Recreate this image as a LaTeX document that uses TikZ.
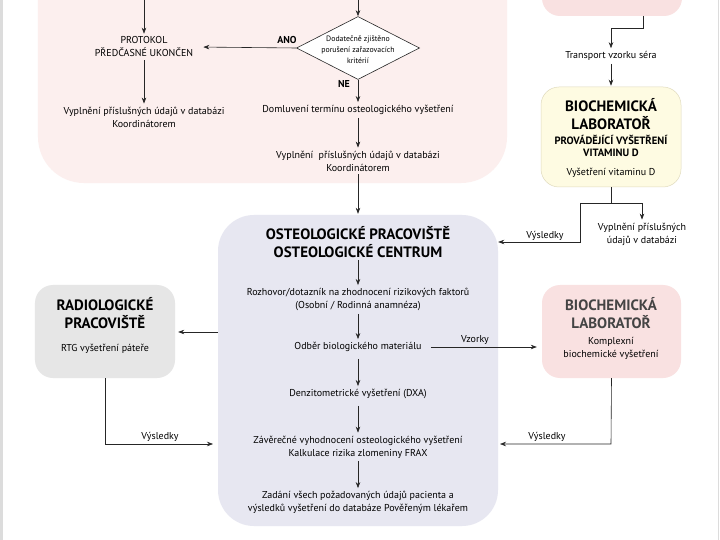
\documentclass[tikz,border=0pt]{standalone}
\usepackage{fontspec}
\setmainfont{PT Sans}
\usetikzlibrary{arrows.meta,shapes.geometric}
\definecolor{pinkbg}{HTML}{FCEFEE}
\definecolor{pinkbox}{HTML}{F9E1E1}
\definecolor{yellowbox}{HTML}{FEFBE2}
\definecolor{yellowline}{HTML}{E0DBBE}
\definecolor{lavbox}{HTML}{E7E7F1}
\definecolor{greybox}{HTML}{E6E6E6}
\definecolor{lineclr}{HTML}{262626}
\definecolor{frameclr}{HTML}{DCDCDC}
\definecolor{titlegrey}{HTML}{444444}
\begin{document}
\begin{tikzpicture}[x=1bp,y=-1bp,
  arr/.style={draw=lineclr, line width=0.6bp, -{Stealth[length=6bp,width=4.5bp]}},
  ln/.style={draw=lineclr, line width=0.6bp},
  txt/.style={align=center, inner sep=3bp, font=\fontsize{10bp}{13bp}\selectfont, text=black},
  ttl/.style={align=center, inner sep=2bp, font=\fontsize{15bp}{18bp}\selectfont\bfseries, text=black},
  lbl/.style={inner sep=1bp, font=\fontsize{10bp}{11bp}\selectfont},
  blbl/.style={inner sep=1bp, font=\fontsize{10bp}{11bp}\selectfont\bfseries},
  box/.style={rounded corners=18bp, inner sep=0pt, draw=none}]
\useasboundingbox (0,0) rectangle (720,540);
\fill[white] (0,0) rectangle (720,540);
\fill[frameclr] (0,0) rectangle (3,540);
\draw[frameclr, line width=1bp] (718,0) -- (718,540);
% boxes
\begin{scope}
\clip (0,0) rectangle (720,540);
\node[box, rounded corners=46bp, fill=pinkbg, minimum width=469bp, minimum height=243bp] (bigpink) at (272.5,61.5) {};
\node[box, fill=pinkbox, minimum width=140bp, minimum height=76bp] (topbox) at (612,-22) {};
\end{scope}
\node[box, fill=yellowbox, draw=yellowline, line width=0.5bp, minimum width=140bp, minimum height=100bp] (yel) at (611,137) {};
\node[box, rounded corners=36bp, fill=lavbox, minimum width=280bp, minimum height=311bp] (osteo) at (358,370.5) {};
\node[box, fill=greybox, minimum width=140bp, minimum height=93bp] (radio) at (105,331.5) {};
\node[box, fill=pinkbox, minimum width=139bp, minimum height=93bp] (bio) at (611.5,331.5) {};
% top pink region
\node[txt] (protokol) at (144,47) {PROTOKOL\\PŘEDČASNÉ UKONČEN};
\node[txt] (vypl1) at (144,117) {Vyplnění příslušných údajů v databázi\\Koordinátorem};
\node[diamond, draw=lineclr, fill=white, line width=0.6bp, minimum width=123bp, minimum height=63bp, inner sep=0pt] (dia) at (358,48) {};
\node[align=center, inner sep=0pt, font=\fontsize{7.8bp}{11bp}\selectfont] (diatext) at ([yshift=-2bp]dia.center) {Dodatečně zjištěno\\porušení zařazovacích\\kritérií};
\node[txt] (domluv) at (358,110) {Domluvení termínu osteologického vyšetření};
\node[txt] (vypl2) at (358,161) {Vyplnění\ \ příslušných údajů v databázi\\Koordinátorem};
\node[blbl] (ano) at (287,40) {ANO};
\node[blbl] (ne) at (344,84) {NE};
\coordinate (topin1) at (144,0);
\coordinate (topin2) at (358,0);
\draw[arr] (topin1) -- (protokol);
\draw[arr] (protokol) -- (vypl1);
\draw[arr] (topin2) -- (dia.north);
\draw[arr, shorten >=7bp] (dia.west) -- (protokol.east);
\draw[arr] (dia.south) -- (domluv);
\draw[arr] (domluv) -- (vypl2);
\draw[arr, shorten >=1bp] (vypl2) -- (osteo.north);
% right column
\node[txt] (transport) at (611,56) {Transport vzorku séra};
\coordinate (tb) at (643,16);
\draw[arr] (tb) -- (643,28) -| (transport.north);
\draw[arr, shorten >=1bp] (transport) -- (yel.north);
\node[ttl] (yelt) at (611,114.5) {BIOCHEMICKÁ\\LABORATOŘ};
\node[align=center, inner sep=1bp, font=\fontsize{10.6bp}{12.5bp}\selectfont\bfseries] (yels) at (611,146) {PROVÁDĚJÍCÍ VYŠETŘENÍ\\VITAMINU D};
\node[txt] (yelv) at (611,173) {Vyšetření vitaminu D};
\node[txt] (vypl3) at (642,234) {Vyplnění příslušných\\údajů v databázi};
\coordinate (j1) at (611,203);
\coordinate (j2) at (580,203);
\coordinate (k1) at (580,242);
\draw[ln] (yel.south) -- (j1);
\draw[arr] (j2) -| (vypl3.north);
\draw[arr] (j2) -- (k1) -- (k1 -| osteo.east);
\node[lbl] (vys1) at (545,236) {Výsledky};
% osteology
\node[ttl] (ostt) at (358,242) {OSTEOLOGICKÉ PRACOVIŠTĚ\\OSTEOLOGICKÉ CENTRUM};
\node[txt] (rozh) at (358,299.5) {Rozhovor/dotazník na zhodnocení rizikových faktorů\\(Osobní / Rodinná anamnéza)};
\node[txt] (odber) at (358,347) {Odběr biologického materiálu};
\node[txt] (denz) at (358,394) {Denzitometrické vyšetření (DXA)};
\node[txt] (zaver) at (358,447) {Závěrečné vyhodnocení osteologického vyšetření\\Kalkulace rizika zlomeniny FRAX};
\node[txt] (zadani) at (358,502.5) {Zadání všech požadovaných údajů pacienta a\\výsledků vyšetření do databáze Pověřeným lékařem};
\draw[arr] (ostt) -- (rozh);
\draw[arr] (rozh) -- (odber);
\draw[arr, shorten <=4bp] (odber) -- (denz);
\draw[arr, shorten <=4bp] (denz) -- (zaver);
\draw[arr] (zaver) -- (zadani);
% radiology
\node[ttl] (radt) at (105,313.5) {RADIOLOGICKÉ\\PRACOVIŠTĚ};
\node[txt] (rtg) at (105,349) {RTG vyšetření páteře};
\coordinate (r1) at (218,332);
\draw[arr, shorten >=3bp] (r1) -- (r1 -| radio.east);
\coordinate (r2) at (105,444);
\coordinate (r3) at (218,444);
\draw[arr, shorten >=5bp] (radio.south) -- (r2) -- (r3);
\node[lbl] (vys2) at (160,437) {Výsledky};
% biochem lower
\node[ttl, text=titlegrey] (biot) at (611,313.5) {BIOCHEMICKÁ\\LABORATOŘ};
\node[txt] (kompl) at (611,348.5) {Komplexní\\biochemické vyšetření};
\draw[arr, shorten <=6bp, shorten >=5bp] (odber.east) -- (odber.east -| bio.west);
\node[lbl] (vzorky) at (475,340) {Vzorky};
\coordinate (b2) at (611,444);
\coordinate (b3) at (498,444);
\draw[arr, shorten >=2bp] (bio.south) -- (b2) -- (b3);
\node[lbl] (vys3) at (547,437) {Výsledky};
\end{tikzpicture}
\end{document}
